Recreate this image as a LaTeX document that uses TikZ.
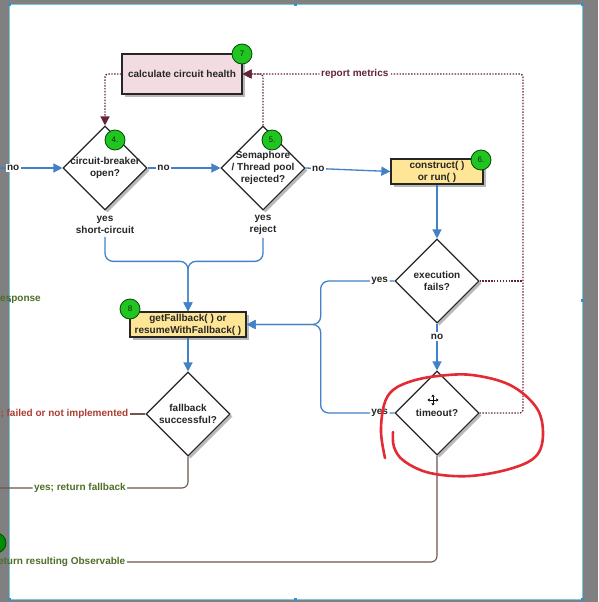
\documentclass[tikz,border=0pt]{standalone}
\usepackage{fontspec}
\setmainfont{Liberation Sans}
\usetikzlibrary{arrows.meta,shapes.geometric,shadows,calc}
\definecolor{flowblue}{RGB}{66,128,200}
\definecolor{metricred}{RGB}{100,36,56}
\definecolor{resultbrown}{RGB}{112,86,76}
\definecolor{okgreen}{RGB}{78,110,40}
\definecolor{failred}{RGB}{172,62,50}
\definecolor{healthpink}{RGB}{242,220,226}
\definecolor{callyellow}{RGB}{255,229,150}
\definecolor{stepgreen}{RGB}{34,196,34}
\definecolor{framegray}{RGB}{128,128,128}
\definecolor{edgecyan}{RGB}{120,200,220}
\definecolor{handleblue}{RGB}{60,140,200}
\definecolor{inkred}{RGB}{228,42,52}

\begin{document}
\begin{tikzpicture}[x=1pt,y=-1pt,font=\fontsize{10}{12}\selectfont\bfseries,text=black!85,
 decide/.style={diamond,draw=black!85,line width=1.1pt,fill=white,minimum width=84pt,
  minimum height=84pt,inner sep=0pt,
  drop shadow={shadow xshift=2.5pt,shadow yshift=-2.5pt,fill=black!28,opacity=1}},
 callbox/.style={rectangle,draw=black!85,line width=1.3pt,fill=callyellow,inner sep=0.5pt,
  minimum height=25pt,align=center,
  drop shadow={shadow xshift=2.5pt,shadow yshift=-2.5pt,fill=black!28,opacity=1}},
 badge/.style={circle,draw=green!30!black,line width=0.8pt,fill=stepgreen,minimum size=20pt,
  inner sep=0pt,font=\fontsize{8}{8}\selectfont,text=green!20!black},
 flow/.style={draw=flowblue,line width=1.3pt,-{Triangle[length=9pt,width=9pt]}},
 metric/.style={draw=metricred,line width=1.4pt,dash pattern=on 1.4pt off 1.5pt},
 metrictip/.style={-{Triangle[length=9pt,width=9pt,fill=metricred]}},
 result/.style={draw=resultbrown,line width=1.1pt,rounded corners=6pt},
 tag/.style={fill=white,inner sep=1.5pt}]
\useasboundingbox (0,0) rectangle (598,602);
% window frame
\fill[framegray] (0,0) rectangle (598,602);
\fill[white] (9,5) rectangle (582,599);
\draw[edgecyan,line width=1pt] (9,5) rectangle (582,599);
\foreach \hx/\hy in {9/5,295/5,582/5,582/300,582/599,295/599,9/599,9/300}
 \fill[handleblue] (\hx-1.5,\hy-1.5) rectangle (\hx+1.5,\hy+1.5);

% nodes
\node[rectangle,draw=black!85,line width=1.3pt,fill=healthpink,minimum width=120pt,
 minimum height=40pt,drop shadow={shadow xshift=2.5pt,shadow yshift=-2.5pt,fill=black!28,opacity=1}]
 (health) at (182,74) {calculate circuit health};
\node[decide] (cbopen) at (105,168) {};
\node[decide] (rejected) at (263,168) {};
\node[callbox,minimum width=92pt] (construct) at (437,171.5) {construct( )\\or run( )};
\node[decide] (execfails) at (437,281) {};
\node[decide] (timeout) at (437,413) {};
\node[callbox,minimum width=116pt] (fallback) at (188,324.5) {getFallback( ) or\\resumeWithFallback( )};
\node[decide] (fbok) at (188,414) {};

\node[align=center] (cbtext) at (cbopen) {circuit-breaker\\open?};
\node[align=center] (rjtext) at (rejected) {Semaphore\\/ Thread pool\\rejected?};
\node[align=center] (eftext) at (execfails) {execution\\fails?};
\node (totext) at (timeout) {timeout?};
\node[align=center] (fbtext) at (fbok) {fallback\\successful?};
\node[align=center] (sc) at (105,224.5) {yes\\short-circuit};
\node[align=center] (rj) at (263,224.5) {yes\\reject};

\node[badge] (n7) at (242,54) {7};
\node[badge] (n4) at (115,140) {4.};
\node[badge] (n5) at (272,140) {5.};
\node[badge] (n6) at (481,160) {6.};
\node[badge] (n8) at (130,309) {8};
\node[badge,fill=green!55!black] (n9) at (-4,543) {};

% texts running off the left edge
\node[anchor=east,text=failred,inner sep=1.5pt] (failtag) at (130,414) {no; failed or not implemented};
\node[anchor=east,text=okgreen,inner sep=1.5pt] (obstag) at (127,562) {return resulting Observable};
\node[anchor=east,text=okgreen,inner sep=1pt] (resp) at (42,299) {successful response};

\coordinate (entry) at (-5,168);
\coordinate (rmcorner) at (523,74);
\coordinate (fbexit) at (-60,488);
\path (fallback.east) ++(74,0) coordinate (brace);
\path (fallback.north) ++(0,-50) coordinate (merge);

% main flow
\draw[flow] (entry) -- node[tag,pos=0.27]{no} (cbopen.west);
\draw[flow] (cbopen.east) -- node[tag,pos=0.22]{no} (rejected.west);
\draw[flow] (rejected.east) -- node[tag,pos=0.15]{no} (construct.west);
\draw[flow] (construct.south) -- (execfails.north);
\draw[flow] (execfails.south) -- node[tag,pos=0.28]{no} (timeout.north);
\draw[flow,rounded corners=8pt] (execfails.west) -- node[tag,pos=0.2]{yes}
 (execfails.west -| brace) -- (brace) -- (fallback.east);
\draw[flow,rounded corners=8pt] (timeout.west) -- node[tag,pos=0.2]{yes}
 (timeout.west -| brace) -- (brace) -- (fallback.east);
\draw[flow,rounded corners=8pt] (sc.south) |- (merge) -- (fallback.north);
\draw[flow,rounded corners=8pt] (rj.south) |- (merge) -- (fallback.north);
\draw[flow] (fallback.south) -- (fbok.north);

% metrics
\draw[metric,metrictip,rounded corners=3pt] (health.west) -| (cbopen.north);
\draw[metric,metrictip,rounded corners=3pt] (rejected.north) |- (health.east);
\draw[metric,metrictip,rounded corners=3pt] (timeout.east) -| (rmcorner)
 -- node[tag,pos=0.6,text=metricred]{report metrics} (health.east);
\draw[metric] (execfails.east) -- (execfails.east -| rmcorner);

% results
\draw[result] (fbok.west) -- (failtag.east);
\draw[result] (fbok.south) |- node[tag,pos=0.718,text=okgreen]{yes; return fallback} (fbexit);
\draw[result] (timeout.south) |- (obstag.east);

% move cursor
\begin{scope}[shift={(433,400)},line width=0.6pt]
 \foreach \dx/\dy in {1/0,-1/0,0/1,0/-1}
  \draw[-{Triangle[length=2.2pt,width=3.2pt]}] (0,0) -- (5.5*\dx,5.5*\dy);
\end{scope}

% hand drawn mark
\draw[inkred,line width=2.6pt,line cap=round] plot[smooth,tension=0.6] coordinates
 {(385,458) (381,432) (384,405) (393,390) (412,381) (438,376) (472,375) (510,385)
  (536,407) (543,432) (537,455) (513,468) (470,476) (430,473) (404,461) (394,447) (393,432)};
\end{tikzpicture}
\end{document}
